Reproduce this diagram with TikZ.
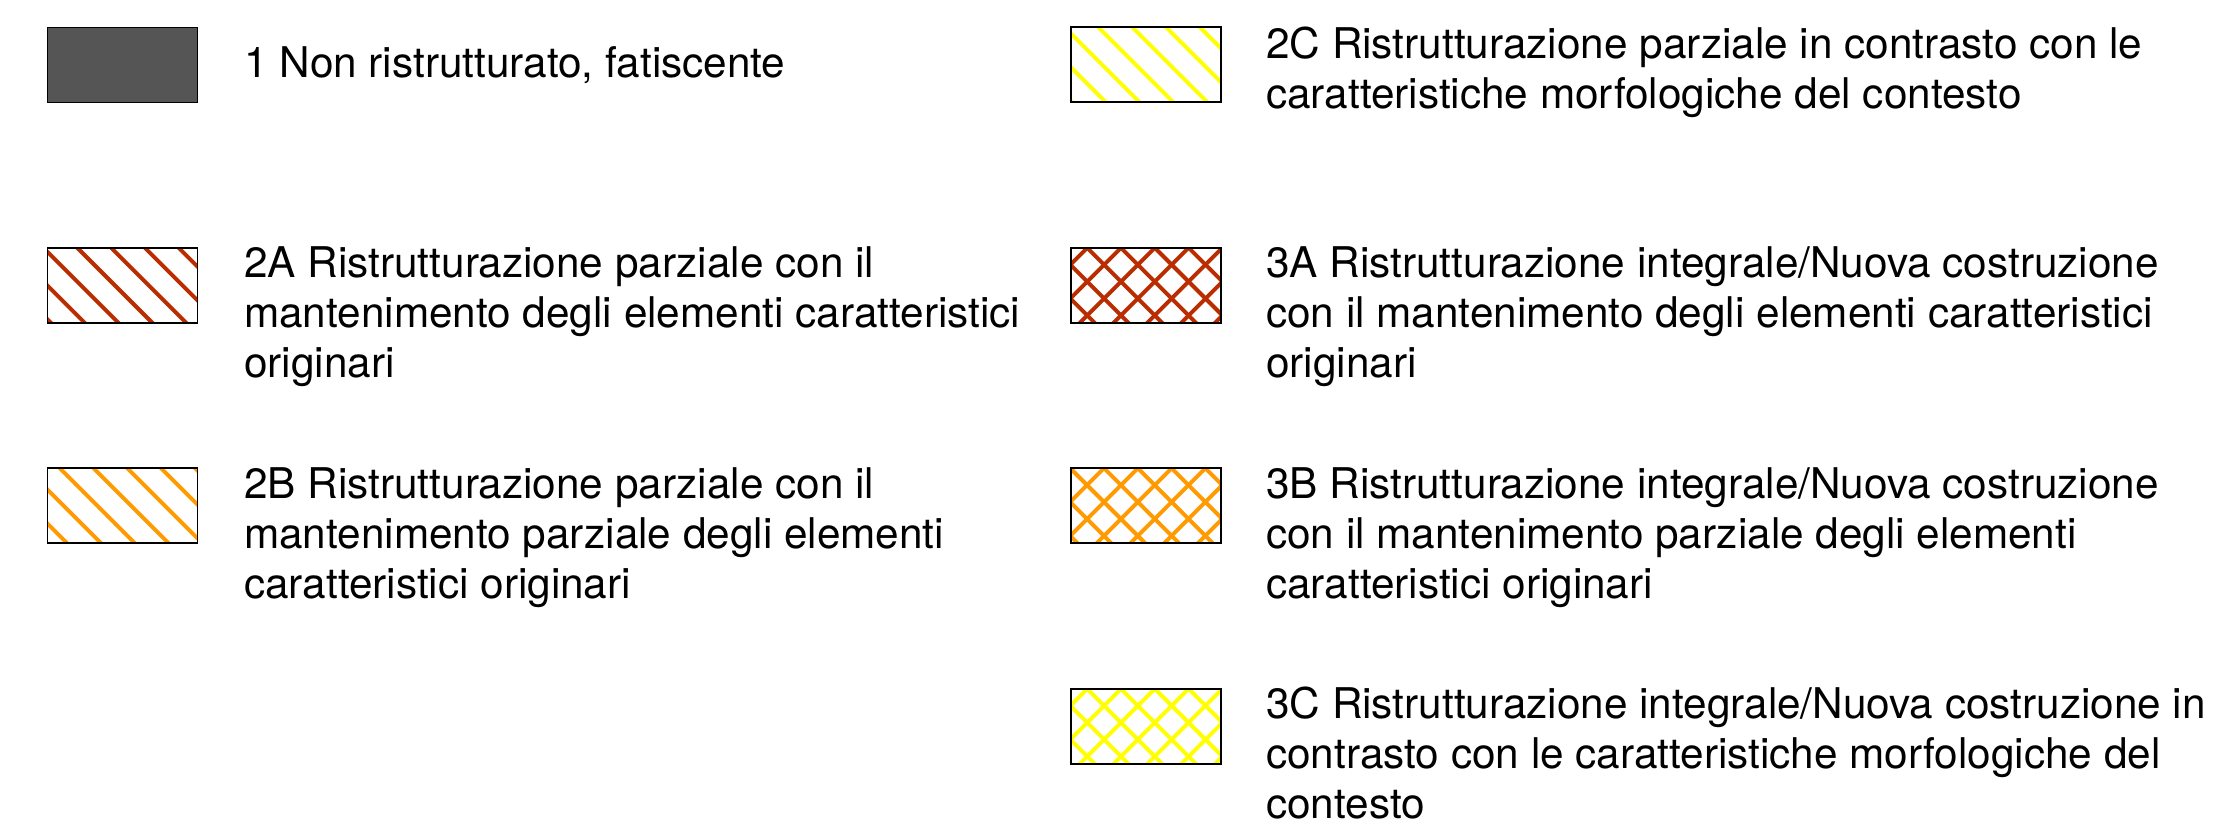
\documentclass[tikz,border=0pt]{standalone}
\usepackage{fontspec}
\setmainfont{TeX Gyre Heros}
\definecolor{hred}{HTML}{B92D00}
\definecolor{horange}{HTML}{FF9A00}
\definecolor{hyellow}{HTML}{FFFF00}
\definecolor{dgray}{HTML}{555555}
\newcommand\hatchdown[2]{\foreach \k in {-4,...,7}{\draw[hatchline,#2] ([shift={({#1+33.8*\k-10},-10)}]path picture bounding box.north west) -- ++(110,110);}}
\newcommand\hatchup[2]{\foreach \k in {-1,...,9}{\draw[hatchline,#2] ([shift={({#1+33.8*\k+10},-10)}]path picture bounding box.north west) -- ++(-110,110);}}
\begin{document}
\begin{tikzpicture}[x=1pt,y=-1pt,
  swatch/.style={draw=black, line width=1.8pt, minimum width=150pt, minimum height=75pt, inner sep=0pt, outer sep=0pt, anchor=north west},
  hatchline/.style={line width=3.9pt, line cap=butt},
  legtext/.style={anchor=base west, align=left, inner sep=0pt, font=\fontsize{42.3}{50}\selectfont}]
\useasboundingbox[fill=white] (0,0) rectangle (2227,831);
% left column (base anchor = baseline of the last line)
\node[swatch, fill=dgray] (s1) at (47.5,27.5) {};
\node[legtext] (t1) at (244,77.7) {1 Non ristrutturato, fatiscente};
\node[swatch, path picture={\hatchdown{-4}{hred}}] (s2a) at (47.5,247.8) {};
\node[legtext] (t2a) at (244,377.7) {2A Ristrutturazione parziale con il\\mantenimento degli elementi caratteristici\\originari};
\node[swatch, path picture={\hatchdown{12.3}{horange}}] (s2b) at (47.5,468.2) {};
\node[legtext] (t2b) at (244,598.4) {2B Ristrutturazione parziale con il\\mantenimento parziale degli elementi\\caratteristici originari};
% right column
\node[swatch, path picture={\hatchdown{-6.6}{hyellow}}] (s2c) at (1071.2,27.2) {};
\node[legtext] (t2c) at (1266,108.3) {2C Ristrutturazione parziale in contrasto con le\\caratteristiche morfologiche del contesto};
\node[swatch, path picture={\hatchdown{16}{hred}\hatchup{16}{hred}}] (s3a) at (1071.2,247.8) {};
\node[legtext] (t3a) at (1266,377.7) {3A Ristrutturazione integrale/Nuova costruzione\\con il mantenimento degli elementi caratteristici\\originari};
\node[swatch, path picture={\hatchdown{-1}{horange}\hatchup{-1}{horange}}] (s3b) at (1071.2,468.2) {};
\node[legtext] (t3b) at (1266,598.4) {3B Ristrutturazione integrale/Nuova costruzione\\con il mantenimento parziale degli elementi\\caratteristici originari};
\node[swatch, path picture={\hatchdown{16}{hyellow}\hatchup{16}{hyellow}}] (s3c) at (1071.2,688.8) {};
\node[legtext] (t3c) at (1266,818.3) {3C Ristrutturazione integrale/Nuova costruzione in\\contrasto con le caratteristiche morfologiche del\\contesto};
\end{tikzpicture}
\end{document}
